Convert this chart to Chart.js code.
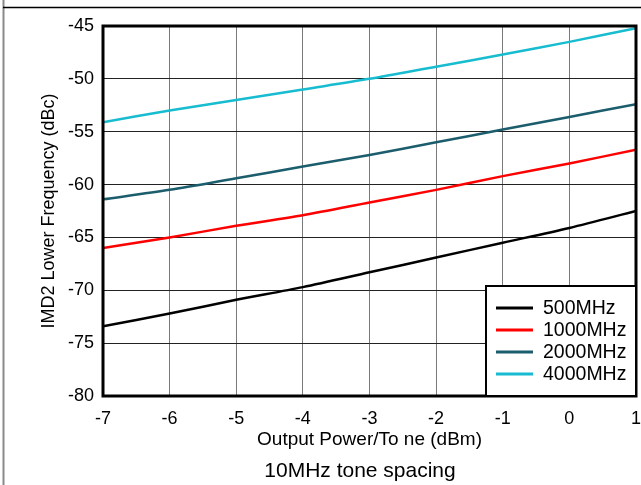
<!DOCTYPE html>
<html>
<head>
<meta charset="utf-8">
<script src="https://cdn.jsdelivr.net/npm/chart.js@4"></script>
<style>
  body { margin: 0; background: #fff; }
  #wrap { width: 641px; height: 485px; position: relative; }
</style>
</head>
<body>
<div id="wrap"><canvas id="chart"></canvas></div>
<script>
const power = [-7, -6, -5, -4, -3, -2, -1, 0, 1];
const seriesNames = ["500MHz", "1000MHz", "2000MHz", "4000MHz"];
const imd500 = [-73.4, -72.2, -70.9, -69.7, -68.3, -66.9, -65.5, -64.1, -62.5];
const imd1000 = [-66.0, -65.0, -63.9, -62.9, -61.7, -60.5, -59.2, -58.0, -56.7];
const imd2000 = [-61.4, -60.5, -59.4, -58.3, -57.2, -56.0, -54.8, -53.6, -52.4];
const imd4000 = [-54.1, -53.0, -52.0, -51.0, -50.0, -48.85, -47.7, -46.5, -45.2];
const colors = ["#000000", "#ff0000", "#1b5d6c", "#17bcd0"];

const FONT = "'Liberation Sans', Arial, sans-serif";

function pts(vals){
  return vals.map((v, i) => ({ x: power[i], y: v }));
}

// frame, plot border, legend box and the caption under the chart
const decor = {
  id: "decor",
  beforeDraw(chart){
    const ctx = chart.ctx;
    ctx.save();
    ctx.fillStyle = "#fff";
    ctx.fillRect(0, 0, chart.width, chart.height);
    ctx.strokeStyle = "#8a8a8a";
    ctx.lineWidth = 2;
    ctx.beginPath(); ctx.moveTo(3.5, 0); ctx.lineTo(3.5, chart.height); ctx.stroke();
    ctx.strokeStyle = "#000";
    ctx.lineWidth = 1.5;
    ctx.beginPath(); ctx.moveTo(3, 7.5); ctx.lineTo(chart.width, 7.5); ctx.stroke();
    ctx.restore();
  },
  afterDatasetsDraw(chart){
    const ctx = chart.ctx;
    const a = chart.chartArea;
    ctx.save();
    ctx.strokeStyle = "#000";
    ctx.lineWidth = 3;
    ctx.strokeRect(a.left, a.top, a.right - a.left, a.bottom - a.top);

    // legend
    const w = 150, h = 110;
    const lx = a.right - w, ly = a.bottom - h;
    ctx.fillStyle = "#fff";
    ctx.fillRect(lx, ly, w, h);
    ctx.lineWidth = 2;
    ctx.strokeRect(lx, ly, w, h);
    ctx.font = "19.5px " + FONT;
    ctx.textBaseline = "middle";
    chart.data.datasets.forEach((ds, i) => {
      const y = ly + 22 + i * 22;
      ctx.strokeStyle = ds.borderColor;
      ctx.lineWidth = 3;
      ctx.beginPath(); ctx.moveTo(lx + 10, y); ctx.lineTo(lx + 47, y); ctx.stroke();
      ctx.fillStyle = "#000";
      ctx.fillText(ds.label, lx + 57, y + 1);
    });

    ctx.font = "21px " + FONT;
    ctx.textAlign = "center";
    ctx.fillText("10MHz tone spacing", 360, 471);
    ctx.restore();
  }
};

new Chart(document.getElementById("chart"), {
  type: "line",
  data: {
    datasets: [
      { label: seriesNames[0], data: pts(imd500), borderColor: colors[0] },
      { label: seriesNames[1], data: pts(imd1000), borderColor: colors[1] },
      { label: seriesNames[2], data: pts(imd2000), borderColor: colors[2] },
      { label: seriesNames[3], data: pts(imd4000), borderColor: colors[3] }
    ]
  },
  options: {
    responsive: true,
    maintainAspectRatio: false,
    animation: false,
    layout: { padding: { left: 30, right: 5, top: 26, bottom: 34 } },
    elements: {
      line: { borderWidth: 2.5, tension: 0.3, fill: false },
      point: { radius: 0 }
    },
    plugins: { legend: { display: false }, tooltip: { enabled: false } },
    scales: {
      x: {
        type: "linear",
        min: -7, max: 1,
        afterFit: s => { s.height = 55; s.paddingLeft = 0; s.paddingRight = 0; },
        grid: { color: "#7a7a7a", lineWidth: 1, drawTicks: false },
        border: { display: false },
        ticks: { stepSize: 1, padding: 12, color: "#000", font: { family: FONT, size: 18 } },
        title: { display: true, text: "Output Power/To ne (dBm)", color: "#000",
                 font: { family: FONT, size: 19 }, padding: { top: 0, bottom: 0 } }
      },
      y: {
        min: -80, max: -45,
        afterFit: s => { s.width = 73; s.paddingTop = 0; s.paddingBottom = 0; },
        grid: { color: "#222", lineWidth: 1, drawTicks: false },
        border: { display: false },
        ticks: { stepSize: 5, padding: 9, color: "#000", font: { family: FONT, size: 18 } },
        title: { display: true, text: "IMD2 Lower Frequency (dBc)", color: "#000",
                 font: { family: FONT, size: 18 }, padding: { top: 8, bottom: 0 } }
      }
    }
  },
  plugins: [decor]
});
</script>
</body>
</html>
